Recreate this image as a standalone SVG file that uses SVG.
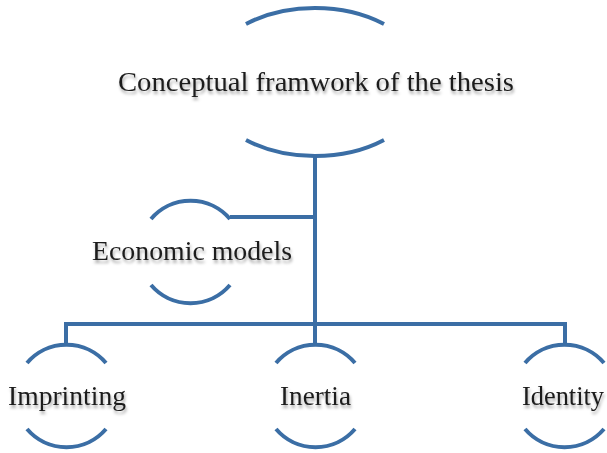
<svg xmlns="http://www.w3.org/2000/svg" width="607" height="453" viewBox="0 0 607 453">
  <style>
    .arc { fill: none; stroke: #3b6ea5; stroke-width: 4; stroke-linecap: butt; }
    .conn { fill: none; stroke: #3b6ea5; stroke-width: 4; }
    .lbl { font-family: "Liberation Serif", "Times New Roman", serif; font-size: 27px; fill: #1e1e1e; text-anchor: middle; filter: url(#shadow); }
  </style>
  <defs>
    <filter id="shadow" x="-10%" y="-30%" width="120%" height="170%">
      <feDropShadow dx="1" dy="3" stdDeviation="1.6" flood-color="#000" flood-opacity="0.35"/>
    </filter>
  </defs>
  <rect width="607" height="453" fill="#fff"/>
  <g id="connectors">
    <path class="conn" d="M315 156 V346"/>
    <path class="conn" d="M230 217 H315"/>
    <path class="conn" d="M64 324 H567"/>
    <path class="conn" d="M66 322 V346"/>
    <path class="conn" d="M565 322 V346"/>
  </g>
  <g id="node-thesis">
    <path class="arc" d="M246 24 A111 74 0 0 1 384 24"/>
    <path class="arc" d="M246 140 A111 74 0 0 0 384 140"/>
    <text class="lbl" x="316" y="91" textLength="396" lengthAdjust="spacingAndGlyphs">Conceptual framwork of the thesis</text>
  </g>
  <g id="node-economic">
    <path class="arc" d="M151 219 A52 52 0 0 1 230 219"/>
    <path class="arc" d="M151 285 A52 52 0 0 0 230 285"/>
    <text class="lbl" x="192" y="260" textLength="200" lengthAdjust="spacingAndGlyphs">Economic models</text>
  </g>
  <g id="node-imprinting">
    <path class="arc" d="M27 363 A52 52 0 0 1 106 363"/>
    <path class="arc" d="M27 429 A52 52 0 0 0 106 429"/>
    <text class="lbl" x="67" y="405" textLength="118" lengthAdjust="spacingAndGlyphs">Imprinting</text>
  </g>
  <g id="node-inertia">
    <path class="arc" d="M276 363 A52 52 0 0 1 355 363"/>
    <path class="arc" d="M276 429 A52 52 0 0 0 355 429"/>
    <text class="lbl" x="315.5" y="405" textLength="71" lengthAdjust="spacingAndGlyphs">Inertia</text>
  </g>
  <g id="node-identity">
    <path class="arc" d="M525 363 A52 52 0 0 1 604 363"/>
    <path class="arc" d="M525 429 A52 52 0 0 0 604 429"/>
    <text class="lbl" x="563" y="405" textLength="82" lengthAdjust="spacingAndGlyphs">Identity</text>
  </g>
</svg>
